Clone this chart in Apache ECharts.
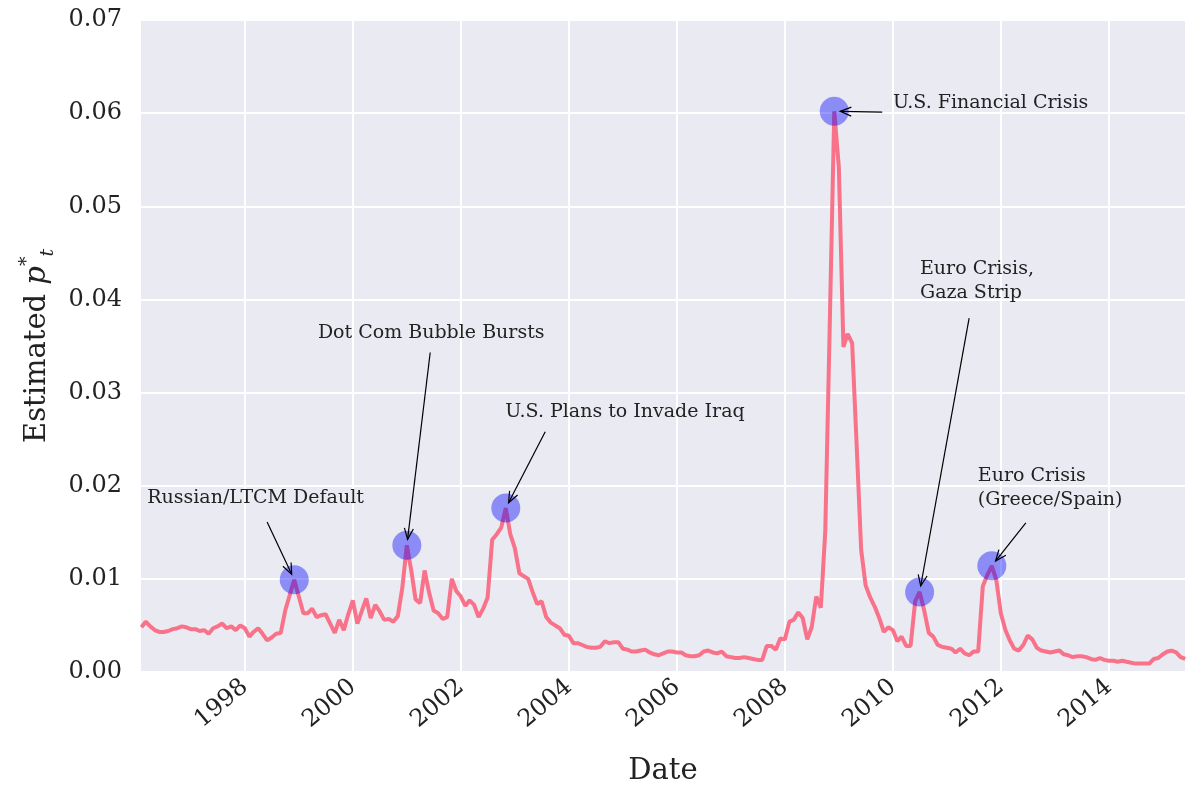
<!DOCTYPE html>
<html>
<head>
<meta charset="utf-8">
<script src="https://cdn.jsdelivr.net/npm/echarts@6/dist/echarts.min.js"></script>
<style>
  html, body { margin: 0; padding: 0; background: #fff; }
  #chart { width: 1186px; height: 789px; }
</style>
</head>
<body>
<div id="chart"></div>
<script>
// monthly observations, month-end dates starting Jan 1996
const firstYear = 1996;
const pStar = [
  0.0048, 0.0054, 0.0049, 0.0045, 0.0043, 0.0043, 0.0044, 0.0046, 0.0047, 0.0049, 0.0048, 0.0046,
  0.0046, 0.0044, 0.0045, 0.0041, 0.0047, 0.0049, 0.0052, 0.0047, 0.0049, 0.0045, 0.0050, 0.0047,
  0.0038, 0.0043, 0.0047, 0.0041, 0.0034, 0.0037, 0.0041, 0.0042, 0.0066, 0.0083, 0.0099, 0.0081,
  0.0063, 0.0063, 0.0068, 0.0059, 0.0061, 0.0062, 0.0052, 0.0042, 0.0056, 0.0045, 0.0062, 0.0077,
  0.0052, 0.0065, 0.0079, 0.0058, 0.0072, 0.0065, 0.0056, 0.0057, 0.0054, 0.0060, 0.0090, 0.0136,
  0.0108, 0.0078, 0.0074, 0.0109, 0.0085, 0.0066, 0.0063, 0.0057, 0.0059, 0.0100, 0.0087, 0.0081,
  0.0071, 0.0077, 0.0072, 0.0059, 0.0068, 0.0080, 0.0142, 0.0148, 0.0155, 0.0176, 0.0148, 0.0133,
  0.0106, 0.0103, 0.0100, 0.0086, 0.0073, 0.0076, 0.0059, 0.0053, 0.0050, 0.0047, 0.0040, 0.0039,
  0.0031, 0.0031, 0.0029, 0.0027, 0.0026, 0.0026, 0.0027, 0.0033, 0.0031, 0.0032, 0.0032, 0.0025,
  0.0024, 0.0022, 0.0022, 0.0023, 0.0024, 0.0021, 0.0019, 0.0018, 0.0020, 0.0022, 0.0022, 0.0021,
  0.0021, 0.0018, 0.0017, 0.0017, 0.0018, 0.0022, 0.0023, 0.0021, 0.0020, 0.0022, 0.0017, 0.0016,
  0.0015, 0.0015, 0.0016, 0.0015, 0.0014, 0.0013, 0.0013, 0.0028, 0.0028, 0.0024, 0.0036, 0.0035,
  0.0054, 0.0056, 0.0064, 0.0058, 0.0035, 0.0048, 0.0081, 0.0069, 0.0151, 0.0377, 0.0602, 0.0542,
  0.0349, 0.0363, 0.0353, 0.0245, 0.0131, 0.0093, 0.0080, 0.0070, 0.0058, 0.0043, 0.0048, 0.0045,
  0.0033, 0.0038, 0.0028, 0.0028, 0.0076, 0.0086, 0.0066, 0.0042, 0.0038, 0.0029, 0.0027, 0.0026,
  0.0025, 0.0021, 0.0025, 0.0020, 0.0018, 0.0022, 0.0022, 0.0092, 0.0104, 0.0114, 0.0099, 0.0063,
  0.0045, 0.0034, 0.0025, 0.0023, 0.0029, 0.0039, 0.0035, 0.0026, 0.0023, 0.0022, 0.0021, 0.0022,
  0.0023, 0.0019, 0.0018, 0.0016, 0.0017, 0.0017, 0.0016, 0.0014, 0.0013, 0.0015, 0.0013, 0.0012,
  0.0012, 0.0011, 0.0012, 0.0011, 0.0010, 0.0009, 0.0009, 0.0009, 0.0009, 0.0014, 0.0015, 0.0019,
  0.0022, 0.0023, 0.0021, 0.0016, 0.0014
];

// annotated events
const eventIndex = [34, 59, 81, 154, 173, 189];
const eventLabels = [
  'Russian/LTCM Default',
  'Dot Com Bubble Bursts',
  'U.S. Plans to Invade Iraq',
  'U.S. Financial Crisis',
  'Euro Crisis,\nGaza Strip',
  'Euro Crisis\n(Greece/Spain)'
];
// arrow tails and text anchors, in data units (year, p*)
const arrowFrom = [
  [1998.41, 0.0161], [2001.43, 0.0343], [2003.56, 0.0258],
  [2009.80, 0.0601], [2011.41, 0.0380], [2012.46, 0.0160]
];
const textAt = [
  [1996.19, 0.0187], [1999.35, 0.0364], [2002.82, 0.0279],
  [2010.00, 0.0611], [2010.50, 0.0420], [2011.57, 0.0197]
];

const xMin = 1996.056, xMax = 2015.426;

function monthEndYear(i) {
  const y = firstYear + Math.floor(i / 12), mo = i % 12;
  const t = Date.UTC(y, mo + 1, 0);
  const y0 = Date.UTC(y, 0, 1), y1 = Date.UTC(y + 1, 0, 1);
  return y + (t - y0) / (y1 - y0);
}

const lineData = pStar.map((v, i) => [monthEndYear(i), v]);
const eventPoints = eventIndex.map(i => lineData[i]);
const annoData = eventIndex.map((idx, k) => [
  lineData[idx][0], lineData[idx][1],
  arrowFrom[k][0], arrowFrom[k][1],
  textAt[k][0], textAt[k][1]
]);

const serif = 'DejaVu Serif';
const ink = '#222';

const chart = echarts.init(document.getElementById('chart'));

function renderAnno(params, api) {
  const p = api.coord([api.value(0), api.value(1)]);
  const t = api.coord([api.value(2), api.value(3)]);
  const tx = api.coord([api.value(4), api.value(5)]);
  const dx = p[0] - t[0], dy = p[1] - t[1];
  const len = Math.hypot(dx, dy);
  const ux = dx / len, uy = dy / len;
  const ex = p[0] - ux * 6, ey = p[1] - uy * 6;
  const hl = 11, hw = 4.5;
  const bx = ex - ux * hl, by = ey - uy * hl;
  return {
    type: 'group',
    children: [
      { type: 'line', shape: { x1: t[0], y1: t[1], x2: ex, y2: ey },
        style: { stroke: '#000', lineWidth: 1.2 } },
      { type: 'polyline',
        shape: { points: [[bx - uy * hw, by + ux * hw], [ex, ey], [bx + uy * hw, by - ux * hw]] },
        style: { stroke: '#000', lineWidth: 1.2, fill: null } },
      { type: 'text', x: tx[0], y: tx[1],
        style: { text: eventLabels[params.dataIndex], fill: ink, font: '19px "' + serif + '"',
                 align: 'left', verticalAlign: 'middle', lineHeight: 24 } }
    ]
  };
}

const option = {
  backgroundColor: '#fff',
  animation: false,
  grid: {
    left: 140, right: 0, top: 20, bottom: 117,
    outerBoundsMode: 'none',
    show: true, backgroundColor: '#EAEAF2', borderWidth: 0
  },
  xAxis: {
    type: 'value',
    min: xMin, max: xMax, splitNumber: 10,
    name: 'Date', nameLocation: 'middle', nameGap: 85,
    nameTextStyle: { fontFamily: serif, fontSize: 29, color: ink },
    axisLine: { show: false }, axisTick: { show: false },
    axisLabel: {
      rotate: 40, margin: 12, fontFamily: serif, fontSize: 24, color: ink,
      showMinLabel: false, showMaxLabel: false,
      formatter: v => String(Math.round(v))
    },
    splitLine: { show: true, lineStyle: { color: '#fff', width: 2 } }
  },
  yAxis: {
    type: 'value',
    min: 0, max: 0.07, interval: 0.01,
    name: 'Estimated {it|p}{sup|*}{sub|t}', nameLocation: 'middle', nameGap: 80,
    nameTextStyle: {
      fontFamily: serif, fontSize: 29, color: ink,
      rich: {
        it: { fontFamily: serif, fontSize: 29, fontStyle: 'italic', color: ink },
        sup: { fontFamily: serif, fontSize: 19, color: ink, verticalAlign: 'top', lineHeight: 40 },
        sub: { fontFamily: serif, fontSize: 19, fontStyle: 'italic', color: ink, verticalAlign: 'bottom', lineHeight: 40 }
      }
    },
    axisLine: { show: false }, axisTick: { show: false },
    axisLabel: { margin: 18, fontFamily: serif, fontSize: 24, color: ink, formatter: v => v.toFixed(2) },
    splitLine: { show: true, lineStyle: { color: '#fff', width: 2 } }
  },
  series: [
    {
      type: 'line', data: lineData, showSymbol: false, z: 2,
      lineStyle: { color: '#f8728a', width: 4 }
    },
    {
      type: 'scatter', data: eventPoints, symbolSize: 29, z: 3,
      itemStyle: { color: 'rgba(0,0,255,0.5)' }
    },
    {
      type: 'custom', data: annoData, renderItem: renderAnno, z: 4, clip: false
    }
  ]
};

chart.setOption(option);
window.addEventListener('resize', () => chart.resize());
</script>
</body>
</html>
